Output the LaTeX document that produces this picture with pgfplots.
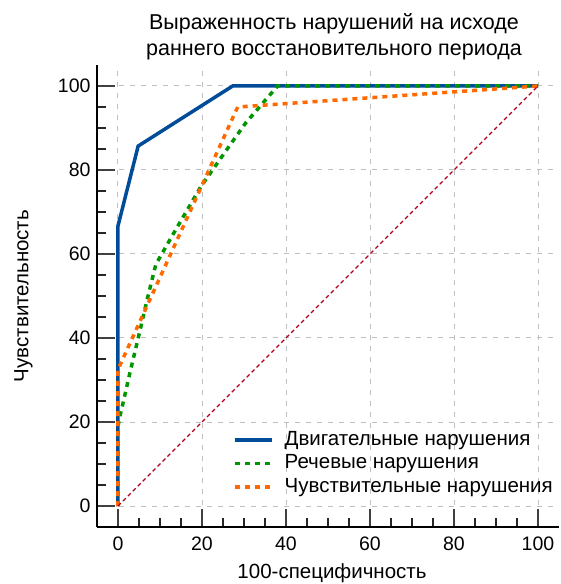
\documentclass[border=0pt]{standalone}
\usepackage{fontspec}
\setmainfont{Liberation Sans}
\usepackage{pgfplots}
\pgfplotsset{compat=1.18}

\definecolor{cblue}{RGB}{0,76,153}
\definecolor{cgreen}{RGB}{0,150,0}
\definecolor{corange}{RGB}{255,105,0}
\definecolor{cdiag}{RGB}{175,0,25}

\begin{document}
\begin{tikzpicture}
\begin{axis}[
    name=ax,
    scale only axis,
    width=462pt, height=462pt,
    xmin=-5, xmax=105, ymin=-5, ymax=105,
    axis lines*=left,
    axis line style={line width=2.5pt, black},
    xtick={0,20,...,100}, ytick={0,20,...,100},
    minor x tick num=3, minor y tick num=3,
    tick align=inside,
    major tick length=18pt, minor tick length=9pt,
    major tick style={line width=2.5pt, black!75},
    minor tick style={line width=1.8pt, black!85},
    grid=major,
    major grid style={gray!50, line width=1pt, dash pattern=on 5pt off 6pt},
    /pgf/number format/assume math mode=true,
    ticklabel style={font=\fontsize{19.5}{22}\selectfont},
    xticklabel style={yshift=-6.5pt},
    yticklabel style={xshift=-3pt},
    title style={at={(0.5,1)}, anchor=south, align=center,
        font=\fontsize{21.5}{25.5}\selectfont, yshift=-4pt, xshift=6pt},
    title={Выраженность нарушений на исходе\\раннего восстановительного периода},
    xlabel={100-специфичность},
    ylabel={Чувствительность},
    label style={font=\fontsize{20.5}{23}\selectfont},
    xlabel style={at={(axis description cs:0.5,0)}, anchor=center, yshift=-46pt, xshift=4pt},
    ylabel style={at={(axis description cs:-0.159,0.5)}, anchor=center},
    legend style={draw=none, fill=none, at={(0.2944,0.2137)}, anchor=north west,
        inner sep=0pt, font=\fontsize{20.5}{23}\selectfont,
        nodes={text height=15pt, text depth=5pt, inner xsep=2pt, inner ysep=1.75pt}},
    legend cell align=left,
    legend image code/.code={\draw[#1] (0pt,0pt) -- (37pt,0pt); \path (46pt,0pt);},
]
\addplot[cblue, line width=3.5pt] coordinates {
    (0,0) (0,66.7) (4.8,85.7) (27.3,100) (100,100)};
\addplot[cgreen, line width=3.5pt, dash pattern=on 5pt off 5pt] coordinates {
    (0,0) (0,19) (0.6,22) (1.2,24.5) (2.9,32) (4.7,39.5) (7,49.4) (9,57.5)
    (13,64.5) (19.7,76) (26,85) (30.4,91.2) (38,100) (100,100)};
\addplot[corange, line width=3.5pt, dash pattern=on 5pt off 5pt] coordinates {
    (0,0) (0,32.5) (28.5,95) (100,100)};
\addplot[cdiag, line width=1.2pt, dash pattern=on 4pt off 3pt, forget plot] coordinates {
    (0,0) (100,100)};
\legend{Двигательные нарушения, Речевые нарушения, Чувствительные нарушения}
\end{axis}
\pgfresetboundingbox
\path[use as bounding box] ([shift={(-97pt,-57pt)}]ax.south west) rectangle ([shift={(464pt,527pt)}]ax.south west);
\end{tikzpicture}
\end{document}
